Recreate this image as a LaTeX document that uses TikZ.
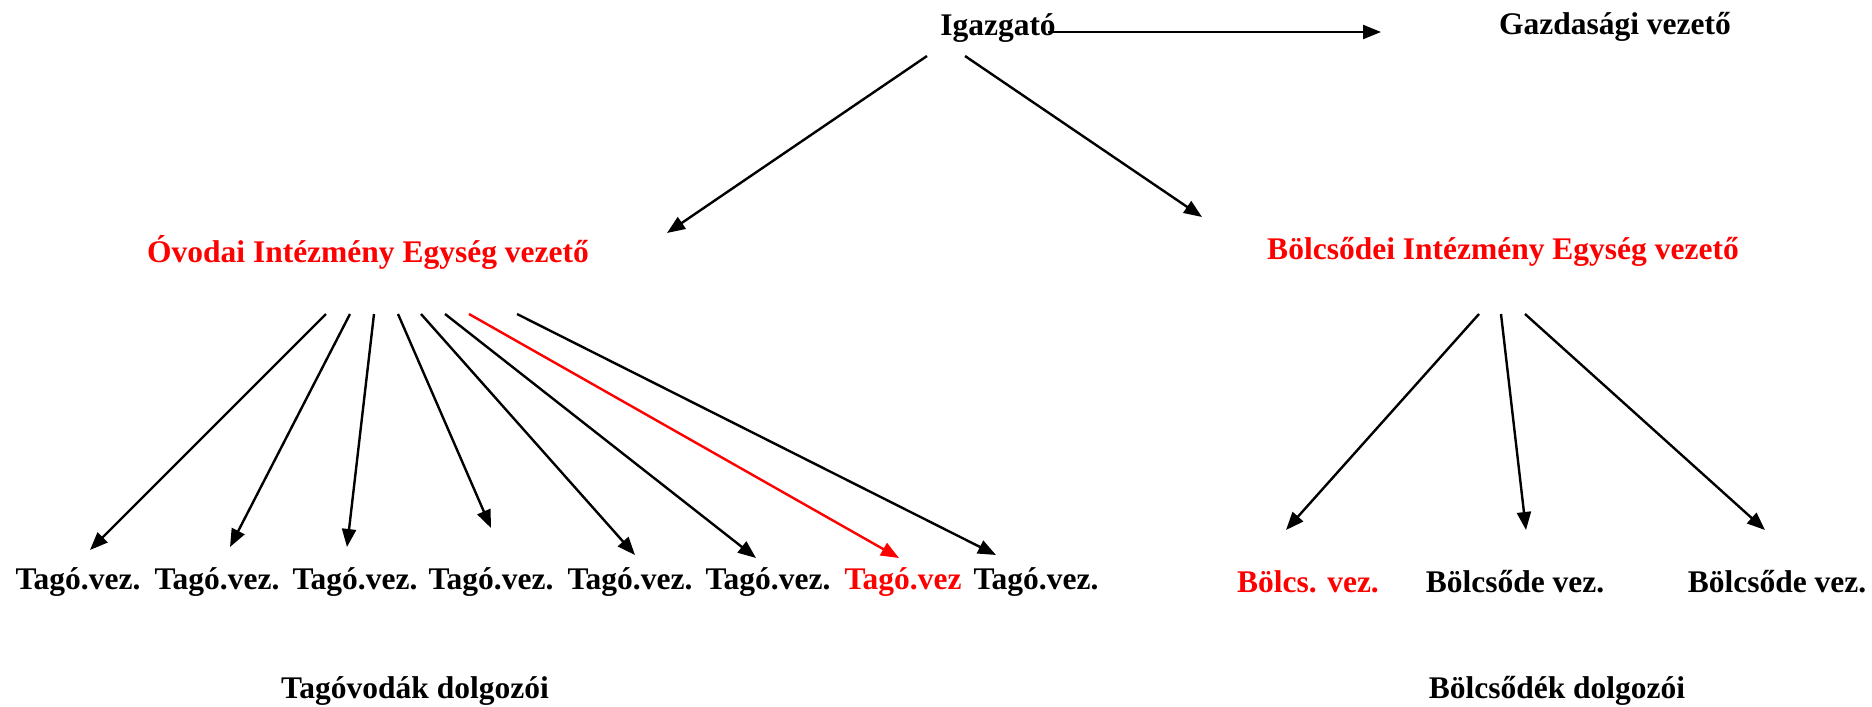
\documentclass[tikz,border=0pt]{standalone}
\usepackage{fontspec}
\setmainfont{Liberation Serif}
\usetikzlibrary{arrows.meta,calc}
\newcommand{\lblfont}{\bfseries\fontsize{31.5}{36}\selectfont}
\begin{document}
\begin{tikzpicture}[x=1pt,y=-1pt,
  lbl/.style={font=\lblfont, inner sep=0pt},
  redlbl/.style={lbl, text=red},
  arr/.style={line width=2.4pt, -{Triangle[length=18pt,width=14pt]}},
  redarr/.style={arr, draw=red, color=red}]
\useasboundingbox (0,0) rectangle (1872,707);
% nodes
\node[lbl] (ig) at (998,28) {Igazgató};
\node[lbl] (gv) at (1615,27) {Gazdasági vezető};
\node[redlbl] (ov) at (368,252) {Óvodai Intézmény Egység vezető};
\node[redlbl] (bv) at (1503,252) {Bölcsődei Intézmény Egység vezető};
\node[lbl] (t1) at (78,582) {Tagó.vez.};
\node[lbl] (t2) at (217,582) {Tagó.vez.};
\node[lbl] (t3) at (355,582) {Tagó.vez.};
\node[lbl] (t4) at (491,582) {Tagó.vez.};
\node[lbl] (t5) at (630,582) {Tagó.vez.};
\node[lbl] (t6) at (768,582) {Tagó.vez.};
\node[redlbl] (t7) at (903,582) {Tagó.vez};
\node[lbl] (t8) at (1036,582) {Tagó.vez.};
\node[redlbl] (b1) at (1308,582) {Bölcs. vez.};
\node[lbl] (b2) at (1515,582) {Bölcsőde vez.};
\node[lbl] (b3) at (1777,582) {Bölcsőde vez.};
\node[lbl] (d1) at (415,691) {Tagóvodák dolgozói};
\node[lbl] (d2) at (1557,691) {Bölcsődék dolgozói};
% connectors
\draw[arr] ($(ig)+(50,4)$) -- ($(gv)+(-234,5)$);
\draw[arr] ($(ig)+(-71,28)$) -- ($(ov)+(299,-19)$);
\draw[arr] ($(ig)+(-33,28)$) -- ($(bv)+(-301,-35)$);
\draw[arr] ($(ov)+(-42,62)$) -- ($(t1)+(12,-32)$);
\draw[arr] ($(ov)+(-18,62)$) -- ($(t2)+(13,-35)$);
\draw[arr] ($(ov)+(6,62)$) -- ($(t3)+(-8,-35)$);
\draw[arr] ($(ov)+(30,62)$) -- ($(t4)+(0,-54)$);
\draw[arr] ($(ov)+(53,62)$) -- ($(t5)+(5,-27)$);
\draw[arr] ($(ov)+(77,62)$) -- ($(t6)+(-12,-24)$);
\draw[redarr] ($(ov)+(101,62)$) -- ($(t7)+(-4,-24)$);
\draw[arr] ($(ov)+(149,62)$) -- ($(t8)+(-40,-27)$);
\draw[arr] ($(bv)+(-24,62)$) -- ($(b1)+(-22,-52)$);
\draw[arr] ($(bv)+(-2,62)$) -- ($(b2)+(11,-52)$);
\draw[arr] ($(bv)+(22,62)$) -- ($(b3)+(-12,-52)$);
\end{tikzpicture}
\end{document}
